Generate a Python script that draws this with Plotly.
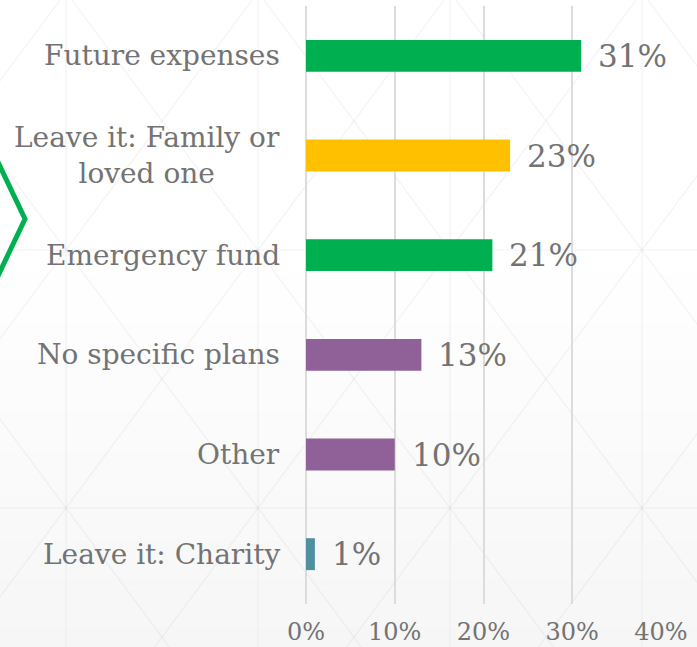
import plotly.graph_objects as go

# Survey answers: what people plan to do with the money
categories = [
    "Future expenses",
    "Leave it: Family or<br>loved one",
    "Emergency fund",
    "No specific plans",
    "Other",
    "Leave it: Charity",
]
shares = [31, 23, 21, 13, 10, 1]
bar_colors = ["#00B050", "#FFC000", "#00B050", "#8F6198", "#8F6198", "#4E909F"]
tick_values = [0, 10, 20, 30, 40]
tick_text = [f"{v}%" for v in tick_values]

W, H = 697, 647
ML, MR, MT, MB = 306, 36, 6, 43
PW, PH = W - ML - MR, H - MT - MB

TEXT = "#737373"
FONT = "DejaVu Serif"


def px_x(px):
    return (px - ML) / PW


def px_y(py):
    return (H - MB - py) / PH


fig = go.Figure(
    go.Bar(
        x=shares,
        y=categories,
        orientation="h",
        marker=dict(color=bar_colors, line=dict(width=0)),
        width=0.32,
        hoverinfo="skip",
    )
)

shapes = []

# soft vertical gradient on the lower part of the background
g_top, g_bot = 255, H
steps = 40
for i in range(steps):
    y0 = g_top + (g_bot - g_top) * i / steps
    y1 = g_top + (g_bot - g_top) * (i + 1) / steps + 0.5
    t = (i + 0.5) / steps
    c = round(255 - 9 * t)
    shapes.append(dict(
        type="rect", xref="paper", yref="paper", layer="below",
        x0=px_x(0), x1=px_x(W), y0=px_y(y1), y1=px_y(y0),
        fillcolor=f"rgb({c},{c},{c})", line=dict(width=0),
    ))

# faint triangular lattice behind the chart
LAT = "rgba(200,200,200,0.22)"
for vx in [66, 258, 450, 642]:
    shapes.append(dict(type="line", xref="paper", yref="paper", layer="below",
                       x0=px_x(vx), x1=px_x(vx), y0=px_y(0), y1=px_y(H),
                       line=dict(color=LAT, width=1.2)))
for hy in [250, 508]:
    shapes.append(dict(type="line", xref="paper", yref="paper", layer="below",
                       x0=px_x(0), x1=px_x(W), y0=px_y(hy), y1=px_y(hy),
                       line=dict(color=LAT, width=1.2)))
slope = 129 / 96
for k in range(-6, 8):
    cx, cy = 66 + 192 * k, 250
    for s in (slope, -slope):
        ya, yb = -20, H + 20
        xa = cx + (ya - cy) / s
        xb = cx + (yb - cy) / s
        shapes.append(dict(type="line", xref="paper", yref="paper", layer="below",
                           x0=px_x(xa), x1=px_x(xb), y0=px_y(ya), y1=px_y(yb),
                           line=dict(color=LAT, width=1.2)))

# green chevron at the left edge
shapes.append(dict(
    type="path", xref="paper", yref="paper", layer="above",
    path=f"M {px_x(-4)},{px_y(158)} L {px_x(25)},{px_y(219)} L {px_x(-4)},{px_y(280)}",
    line=dict(color="#00B050", width=5),
))

# value labels just past each bar end
annotations = [
    dict(x=v, y=c, xref="x", yref="y", text=f"{v}%", showarrow=False,
         xanchor="left", yanchor="middle", xshift=15,
         font=dict(family=FONT, size=31, color=TEXT))
    for v, c in zip(shares, categories)
]
# category names, centred text block, right edge left of the axis
annotations += [
    dict(x=0, y=c, xref="x", yref="y", text=c, showarrow=False,
         xanchor="right", yanchor="middle", align="center", xshift=-24,
         font=dict(family=FONT, size=28, color=TEXT))
    for c in categories
]

fig.update_layout(
    width=W, height=H,
    margin=dict(l=ML, r=MR, t=MT, b=MB, pad=0, autoexpand=False),
    paper_bgcolor="white",
    plot_bgcolor="rgba(0,0,0,0)",
    showlegend=False,
    shapes=shapes,
    annotations=annotations,
    xaxis=dict(
        range=[0, 40], tickvals=tick_values, ticktext=tick_text,
        showgrid=True, gridcolor="#DCDCDC", gridwidth=2,
        zeroline=True, zerolinecolor="#DCDCDC", zerolinewidth=2,
        showline=False, ticks="",
        tickfont=dict(family=FONT, size=24, color=TEXT),
        ticklabelstandoff=11,
        automargin=False,
        fixedrange=True,
    ),
    yaxis=dict(
        categoryorder="array", categoryarray=categories, autorange="reversed",
        showgrid=False, zeroline=False, showline=False, ticks="",
        showticklabels=False, automargin=False,
        fixedrange=True,
    ),
)

fig.write_html("out.html")
